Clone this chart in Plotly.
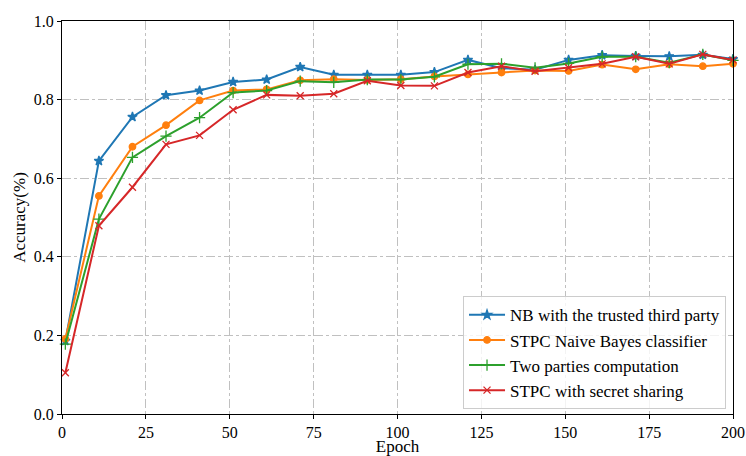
import plotly.graph_objects as go

epochs = [1, 11, 21, 31, 41, 51, 61, 71, 81, 91, 101, 111, 121, 131, 141, 151, 161, 171, 181, 191, 200]

nb_trusted = [0.186, 0.644, 0.756, 0.811, 0.823, 0.845, 0.851, 0.883, 0.863, 0.863, 0.863, 0.870,
              0.901, 0.880, 0.876, 0.901, 0.913, 0.911, 0.910, 0.914, 0.903]
stpc_nb = [0.191, 0.555, 0.680, 0.735, 0.798, 0.823, 0.826, 0.849, 0.852, 0.850, 0.852, 0.859,
           0.864, 0.869, 0.874, 0.873, 0.889, 0.877, 0.890, 0.885, 0.891]
two_parties = [0.178, 0.496, 0.653, 0.707, 0.754, 0.818, 0.823, 0.847, 0.844, 0.851, 0.851, 0.858,
               0.890, 0.891, 0.881, 0.892, 0.909, 0.909, 0.894, 0.915, 0.900]
stpc_ss = [0.105, 0.479, 0.577, 0.686, 0.709, 0.774, 0.812, 0.810, 0.815, 0.848, 0.836, 0.835,
           0.869, 0.885, 0.872, 0.881, 0.891, 0.909, 0.891, 0.915, 0.901]

names = ["NB with the trusted third party", "STPC Naive Bayes classifier",
         "Two parties computation", "STPC with secret sharing"]
x_ticks = [0, 25, 50, 75, 100, 125, 150, 175, 200]
y_ticks = [0.0, 0.2, 0.4, 0.6, 0.8, 1.0]

colors = ["#1f77b4", "#ff7f0e", "#2ca02c", "#d62728"]
symbols = ["star", "circle", "cross-thin", "x-thin"]
sizes = [7, 6.5, 8, 7]

fig = go.Figure()
for name, ys, c, s, sz in zip(names, [nb_trusted, stpc_nb, two_parties, stpc_ss], colors, symbols, sizes):
    fig.add_trace(go.Scatter(
        x=epochs, y=ys, name=name, mode="lines+markers",
        line=dict(color=c, width=2),
        marker=dict(symbol=s, size=sz, color=c, line=dict(color=c, width=1.3)),
        cliponaxis=False,
    ))

font = "Liberation Serif, Times New Roman, serif"
fig.update_layout(
    width=746, height=456,
    margin=dict(l=62, r=13, t=21, b=42),
    paper_bgcolor="white", plot_bgcolor="white",
    font=dict(family=font, size=17, color="black"),
    showlegend=True,
    legend=dict(
        x=0.9896, y=0.012, xanchor="right", yanchor="bottom",
        bordercolor="#cccccc", borderwidth=1, bgcolor="rgba(255,255,255,0.8)",
        font=dict(family=font, size=17), tracegroupgap=0, itemwidth=36,
    ),
    xaxis=dict(
        range=[0, 200], tickvals=x_ticks, ticks="outside", ticklen=4, tickwidth=1,
        tickcolor="black", showline=True, linecolor="black", linewidth=1.2, mirror=True,
        showgrid=True, gridcolor="#c0c0c0", griddash="dashdot", gridwidth=1,
        zeroline=False, automargin=False,
        title=dict(text="Epoch", standoff=4, font=dict(size=17)),
        tickfont=dict(size=16),
    ),
    yaxis=dict(
        range=[0, 1.0], tickvals=y_ticks, ticktext=[f"{v:.1f}" for v in y_ticks],
        ticks="outside", ticklen=4, tickwidth=1,
        tickcolor="black", showline=True, linecolor="black", linewidth=1.2, mirror=True,
        showgrid=True, gridcolor="#c0c0c0", griddash="dashdot", gridwidth=1,
        zeroline=False, automargin=False,
        title=dict(text="Accuracy(%)", standoff=3, font=dict(size=17)),
        tickfont=dict(size=16),
    ),
)

fig.write_html(
    "out.html",
    config={"displayModeBar": False},
    post_script="document.body.style.margin='0';document.body.style.overflow='hidden';",
)
